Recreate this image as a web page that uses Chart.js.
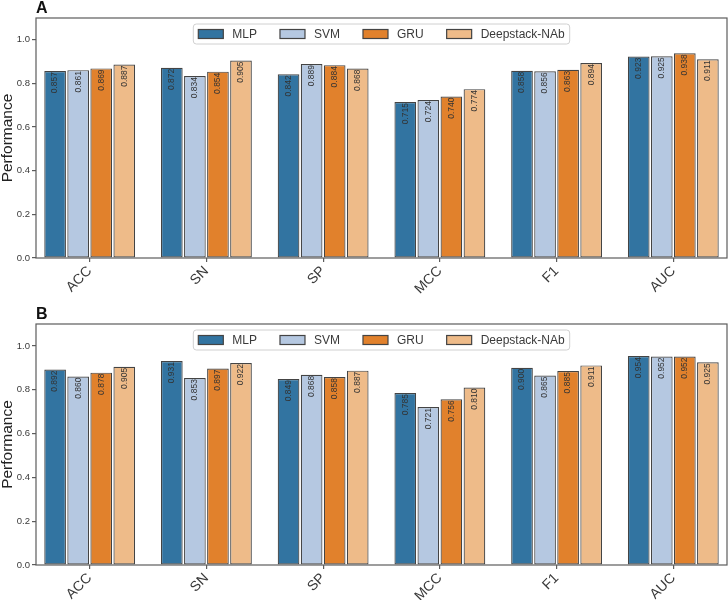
<!DOCTYPE html>
<html>
<head>
<meta charset="utf-8">
<script src="https://cdn.jsdelivr.net/npm/chart.js@4.4.1/dist/chart.umd.min.js"></script>
<style>
  body { margin: 0; background: #fff; }
  .panel { position: relative; width: 728px; height: 300px; }
</style>
</head>
<body>
<div class="panel"><canvas id="chartA"></canvas></div>
<div class="panel"><canvas id="chartB"></canvas></div>
<script>
const metrics = ['ACC', 'SN', 'SP', 'MCC', 'F1', 'AUC'];
const models = ['MLP', 'SVM', 'GRU', 'Deepstack-NAb'];
const yTicks = [0, 0.2, 0.4, 0.6, 0.8, 1.0];

// panel A
const mlpA = [0.857, 0.872, 0.842, 0.715, 0.858, 0.923];
const svmA = [0.861, 0.834, 0.889, 0.724, 0.856, 0.925];
const gruA = [0.869, 0.854, 0.884, 0.740, 0.863, 0.938];
const deepA = [0.887, 0.905, 0.868, 0.774, 0.894, 0.911];

// panel B
const mlpB = [0.892, 0.931, 0.849, 0.785, 0.900, 0.954];
const svmB = [0.860, 0.853, 0.868, 0.721, 0.865, 0.952];
const gruB = [0.878, 0.897, 0.858, 0.756, 0.885, 0.952];
const deepB = [0.905, 0.922, 0.887, 0.810, 0.911, 0.925];

const colors = ['#3274a1', '#b5c8e1', '#e1812c', '#eebb89'];
const FONT = "'Liberation Sans', Arial, sans-serif";

// frame, value labels, legend and panel letter
const decorPlugin = {
  id: 'decor',
  afterDatasetsDraw(chart, args, opts) {
    const ctx = chart.ctx;
    const area = chart.chartArea;
    ctx.save();
    // value labels inside bars
    ctx.font = '8.5px ' + FONT;
    ctx.fillStyle = '#333';
    ctx.textAlign = 'right';
    ctx.textBaseline = 'middle';
    chart.data.datasets.forEach((ds, i) => {
      chart.getDatasetMeta(i).data.forEach((bar, j) => {
        ctx.save();
        ctx.translate(bar.x, bar.y + 1);
        ctx.rotate(-Math.PI / 2);
        ctx.fillText(ds.data[j].y.toFixed(3), 0, 0);
        ctx.restore();
      });
    });

    // frame
    ctx.strokeStyle = '#5c5c5c';
    ctx.lineWidth = 1.2;
    ctx.strokeRect(area.left, area.top, area.right - area.left, area.bottom - area.top);

    // legend
    ctx.font = '12px ' + FONT;
    const patchW = 25, gap = 9, spacing = 23, pad = 5;
    const widths = models.map(m => ctx.measureText(m).width);
    let total = pad * 2 + spacing * (models.length - 1);
    widths.forEach(w => { total += patchW + gap + w; });
    const boxX = (area.left + area.right) / 2 - total / 2;
    const boxY = area.top + 6;
    const boxH = 20;
    ctx.fillStyle = 'rgba(255,255,255,0.85)';
    ctx.strokeStyle = '#d0d0d0';
    ctx.lineWidth = 1;
    ctx.beginPath();
    ctx.roundRect(boxX, boxY, total, boxH, 3);
    ctx.fill();
    ctx.stroke();
    let x = boxX + pad;
    models.forEach((m, i) => {
      ctx.fillStyle = colors[i];
      ctx.fillRect(x, boxY + 5.5, patchW, 9);
      ctx.strokeStyle = '#444';
      ctx.lineWidth = 1.2;
      ctx.strokeRect(x, boxY + 5.5, patchW, 9);
      ctx.fillStyle = '#3a3a3a';
      ctx.textAlign = 'left';
      ctx.textBaseline = 'middle';
      ctx.fillText(m, x + patchW + gap, boxY + boxH / 2 + 0.5);
      x += patchW + gap + widths[i] + spacing;
    });

    // panel letter
    ctx.font = 'bold 16px ' + FONT;
    ctx.fillStyle = '#111';
    ctx.textAlign = 'left';
    ctx.textBaseline = 'alphabetic';
    ctx.fillText(opts.letter, 36, area.top - 5);
    ctx.restore();
  }
};

function makePanel(canvasId, letter, series, frameTop, xHeight) {
  const ctx = document.getElementById(canvasId).getContext('2d');
  const datasets = series.map((vals, i) => ({
    label: models[i],
    data: vals.map((v, j) => ({ x: j, y: v })),
    backgroundColor: colors[i],
    borderColor: '#444',
    borderWidth: 1.2,
    borderSkipped: false,
    categoryPercentage: 0.79,
    barPercentage: 0.94
  }));
  return new Chart(ctx, {
    type: 'bar',
    data: { datasets: datasets },
    plugins: [decorPlugin],
    options: {
      responsive: true,
      maintainAspectRatio: false,
      animation: false,
      layout: { padding: { top: frameTop, right: 1, left: 0, bottom: 0 } },
      plugins: {
        legend: { display: false },
        tooltip: { enabled: false },
        decor: { letter: letter }
      },
      scales: {
        x: {
          type: 'linear',
          min: -0.46,
          max: 5.46,
          offset: false,
          afterBuildTicks: scale => { scale.ticks = metrics.map((m, i) => ({ value: i })); },
          afterFit: scale => { scale.height = xHeight; },
          grid: { offset: false, drawOnChartArea: false, tickLength: 4, color: '#5c5c5c', lineWidth: 1.2 },
          border: { display: false },
          ticks: {
            autoSkip: false,
            minRotation: 45,
            maxRotation: 45,
            padding: 1,
            color: '#3a3a3a',
            font: { family: FONT, size: 14 },
            callback: v => metrics[v]
          }
        },
        y: {
          min: 0,
          max: 1.1,
          afterBuildTicks: scale => { scale.ticks = yTicks.map(v => ({ value: v })); },
          afterFit: scale => { scale.width = 36; },
          grid: { drawOnChartArea: false, tickLength: 4, color: '#5c5c5c', lineWidth: 1.2 },
          border: { display: false },
          ticks: {
            padding: 2,
            color: '#3a3a3a',
            font: { family: FONT, size: 9.5 },
            callback: v => v.toFixed(1)
          },
          title: {
            display: true,
            text: 'Performance',
            color: '#222',
            padding: { top: 0, bottom: 0 },
            font: { family: FONT, size: 15.5, lineHeight: 1 }
          }
        }
      }
    }
  });
}

makePanel('chartA', 'A', [mlpA, svmA, gruA, deepA], 18, 42);
makePanel('chartB', 'B', [mlpB, svmB, gruB, deepB], 24, 35);
</script>
</body>
</html>
